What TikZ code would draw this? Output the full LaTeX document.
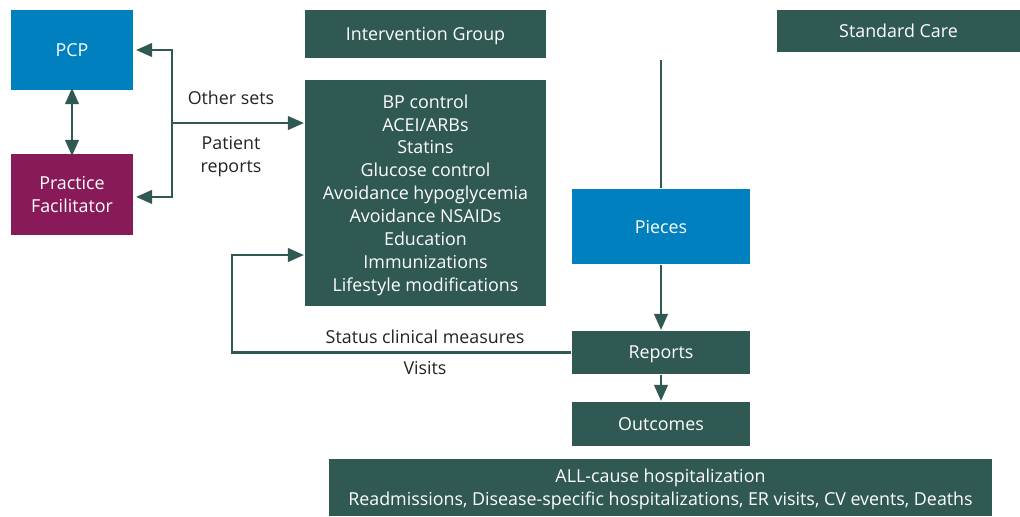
\documentclass[tikz,border=0pt]{standalone}
\usepackage{fontspec}
\setmainfont{Open Sans}
\usetikzlibrary{arrows.meta}
\definecolor{boxgreen}{RGB}{47,89,82}
\definecolor{boxblue}{RGB}{0,128,190}
\definecolor{boxpurple}{RGB}{136,26,90}
\definecolor{labelgray}{RGB}{35,35,35}
\begin{document}
\begin{tikzpicture}[x=0.025cm, y=-0.025cm, line width=1.5pt, draw=boxgreen,
    every node/.style={font=\fontsize{12.7}{16.3}\selectfont}]
    \tikzstyle{box}=[fill=boxgreen, text=white, inner sep=0pt, align=center, text depth=0pt]
    \tikzstyle{blue box}=[box, fill=boxblue]
    \tikzstyle{purple box}=[box, fill=boxpurple]
    \tikzstyle{annot}=[text=labelgray, align=center]
    \tikzstyle{arr}=[-{Triangle[length=0.4cm, width=0.34cm]}]
    \tikzstyle{dbl arr}=[{Triangle[length=0.4cm, width=0.34cm]}-{Triangle[length=0.4cm, width=0.34cm]}]

    \useasboundingbox (0,0) rectangle (1020,516);

    % Left column
    \node[blue box, minimum width=3.05cm, minimum height=2cm] (PCP) at (72,50) {PCP};
    \node[purple box, minimum width=3.05cm, minimum height=2.025cm] (PF) at (72,194.5) {Practice\\Facilitator};

    % Intervention group
    \node[box, minimum width=6.025cm, minimum height=1.2cm] (IG) at (425.5,34) {Intervention Group};
    \node[box, minimum width=6.025cm, minimum height=5.65cm] (Items) at (425.5,193) {
        BP control\\ACEI/ARBs\\Statins\\Glucose control\\Avoidance hypoglycemia\\
        Avoidance NSAIDs\\Education\\Immunizations\\Lifestyle modifications
    };

    % Standard care
    \node[box, minimum width=6.075cm, minimum height=1.05cm] (SC) at (898.5,31) {Standard Care};
    \node[blue box, minimum width=4.45cm, minimum height=1.875cm] (Pieces) at (661,226.5) {Pieces};
    \node[box, minimum width=4.45cm, minimum height=1.075cm] (Reports) at (661,352.5) {Reports};
    \node[box, minimum width=4.45cm, minimum height=1.1cm] (Outcomes) at (661,424) {Outcomes};

    % Bottom outcomes
    \node[box, minimum width=16.575cm, minimum height=1.425cm] (Hosp) at (660.5,487.5) {
        ALL-cause hospitalization\\
        Readmissions, Disease-specific hospitalizations, ER visits, CV events, Deaths
    };

    % Labels
    \node[annot] (OtherSets) at (231,98) {Other sets};
    \node[annot] (PatRep) at (231,157) {Patient\\reports};
    \node[annot] (Status) at (425,337) {Status clinical measures};
    \node[annot] (Visits) at (425,368) {Visits};

    % PCP <-> facilitator
    \draw[dbl arr] ([yshift=0.075cm]PCP.south) -- ([yshift=-0.075cm]PF.north);

    % Split to PCP, facilitator and interventions
    \coordinate (Split) at (172,123);
    \draw[arr] (Split) |- ([xshift=0.05cm]PCP.east);
    \draw[arr] (Split) |- ([xshift=0.05cm, yshift=-0.06cm]PF.east);
    \draw[arr] (Split) -- (Split -| Items.west);

    % Feedback loop
    \coordinate (Loop) at (232,255);
    \draw[arr] (Reports.west) -| (Loop) -- (Loop -| Items.west);

    % Standard care flow
    \coordinate (Top) at (661,60);
    \draw (Top) -- (Pieces.north);
    \draw[arr] (Pieces.south) -- (Reports.north);
    \draw[arr] (Reports.south) -- (Outcomes.north);
\end{tikzpicture}
\end{document}
